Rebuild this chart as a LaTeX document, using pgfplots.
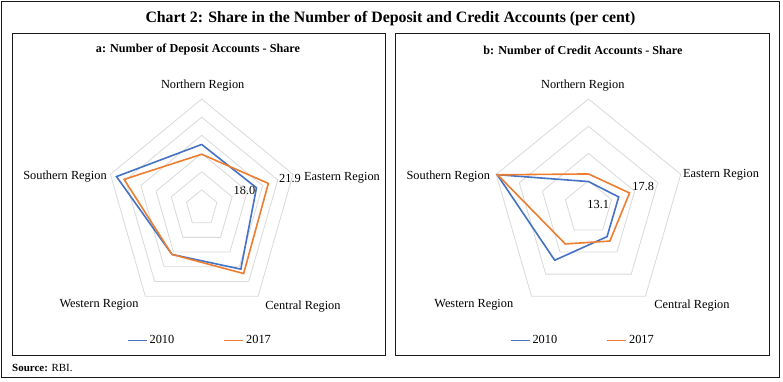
\documentclass[border=0pt]{standalone}
\usepackage{fontspec}
\setmainfont{Liberation Serif}
\usepackage{pgfplots}
\usepackage{pgfplotstable}
\pgfplotsset{compat=1.18}
\definecolor{c10}{HTML}{4472C4}
\definecolor{c17}{HTML}{ED7D31}
\definecolor{gridc}{HTML}{D9D9D9}
\definecolor{frm}{HTML}{1A1A1A}

\pgfplotstableread{
angle y2010 y2017
90 17.5 14.8
18 18.0 21.9
-54 20.8 22.3
-126 15.8 15.8
162 28.0 25.5
90 17.5 14.8
}\deposit

\pgfplotstableread{
angle y2010 y2017
90 9.7 12.5
18 13.1 17.8
-54 13.0 15.0
-126 23.7 16.3
162 39.6 39.4
90 9.7 12.5
}\credit

\pgfplotstableread{
angle unit
90 1
18 1
-54 1
-126 1
162 1
90 1
}\pent

\newcommand{\lab}{\fontsize{12.4}{14}\selectfont}

\pgfplotsset{
  radar/.style={
    hide axis, clip=false, anchor=origin,
    legend columns=2,
    legend style={draw=none, fill=none, font=\lab, column sep=0pt, inner sep=0pt,
      /tikz/every node/.append style={inner sep=2bp}},
    legend image code/.code={\draw[##1, line width=1.6bp] (0bp,0bp) -- (19bp,0bp);},
  },
}

\begin{document}
\begin{tikzpicture}
\begin{scope}[x=1bp,y=-1bp]
\path[use as bounding box] (0,0) rectangle (783,381);
\draw[line width=1bp, frm] (1.5,1.5) rectangle (779.5,377);
\draw[line width=1bp, frm] (12,33.5) rectangle (385.5,355);
\draw[line width=1bp, frm] (395.5,33.5) rectangle (769.5,355);
\coordinate (cL) at (201.7,208);
\coordinate (cR) at (588.5,208);

\node[font=\bfseries\fontsize{15.9}{18}\selectfont, inner sep=0] at (390.5,18.5) {Chart 2: Share in the Number of Deposit and Credit Accounts (per cent)};
\node[font=\bfseries\fontsize{12.2}{14}\selectfont, inner sep=0] at (198,50) {a: Number of Deposit Accounts - Share};
\node[font=\bfseries\fontsize{12.2}{14}\selectfont, inner sep=0] at (583,50) {b: Number of Credit Accounts - Share};

\begin{scope}[every node/.style={font=\lab, inner sep=0}]
\node at (202.7,85.7) {Northern Region};
\node at (65,176.7) {Southern Region};
\node at (342,178) {Eastern Region};
\node at (290,178) {21.9};
\node at (244.5,190.7) {18.0};
\node at (99,305) {Western Region};
\node at (303,306.7) {Central Region};

\node at (582.8,85.7) {Northern Region};
\node at (448.3,176.7) {Southern Region};
\node at (721,175) {Eastern Region};
\node at (643.3,186) {17.8};
\node at (598.3,204) {13.1};
\node at (473.8,305) {Western Region};
\node at (692,306) {Central Region};
\end{scope}

\node[anchor=west, font=\fontsize{11}{13}\selectfont, inner sep=0] at (12,368) {\textbf{Source:} RBI.};
\end{scope}

\begin{axis}[radar, at={(cL)}, x=3.2bp, y=3.633bp,
  xmin=-30, xmax=30, ymin=-30, ymax=30,
  legend style={at={(0.491,-0.108)}, anchor=center}]
\pgfplotsinvokeforeach{5,10,15,20,25,30}{
  \addplot[gridc, line width=0.8bp, forget plot] table[x expr={#1*cos(\thisrow{angle})}, y expr={#1*sin(\thisrow{angle})}]{\pent};
}
\addplot[c10, line width=1.6bp, line join=miter] table[x expr={\thisrow{y2010}*cos(\thisrow{angle})}, y expr={\thisrow{y2010}*sin(\thisrow{angle})}]{\deposit};
\addplot[c17, line width=1.6bp, line join=miter] table[x expr={\thisrow{y2017}*cos(\thisrow{angle})}, y expr={\thisrow{y2017}*sin(\thisrow{angle})}]{\deposit};
\legend{\makebox[72bp][l]{2010}, 2017}
\end{axis}

\begin{axis}[radar, at={(cR)}, x=2.425bp, y=2.725bp,
  xmin=-40, xmax=40, ymin=-40, ymax=40,
  legend style={at={(0.471,-0.108)}, anchor=center}]
\pgfplotsinvokeforeach{10,20,30,40}{
  \addplot[gridc, line width=0.8bp, forget plot] table[x expr={#1*cos(\thisrow{angle})}, y expr={#1*sin(\thisrow{angle})}]{\pent};
}
\addplot[c10, line width=1.6bp, line join=miter] table[x expr={\thisrow{y2010}*cos(\thisrow{angle})}, y expr={\thisrow{y2010}*sin(\thisrow{angle})}]{\credit};
\addplot[c17, line width=1.6bp, line join=miter] table[x expr={\thisrow{y2017}*cos(\thisrow{angle})}, y expr={\thisrow{y2017}*sin(\thisrow{angle})}]{\credit};
\legend{\makebox[72bp][l]{2010}, 2017}
\end{axis}
\end{tikzpicture}
\end{document}
